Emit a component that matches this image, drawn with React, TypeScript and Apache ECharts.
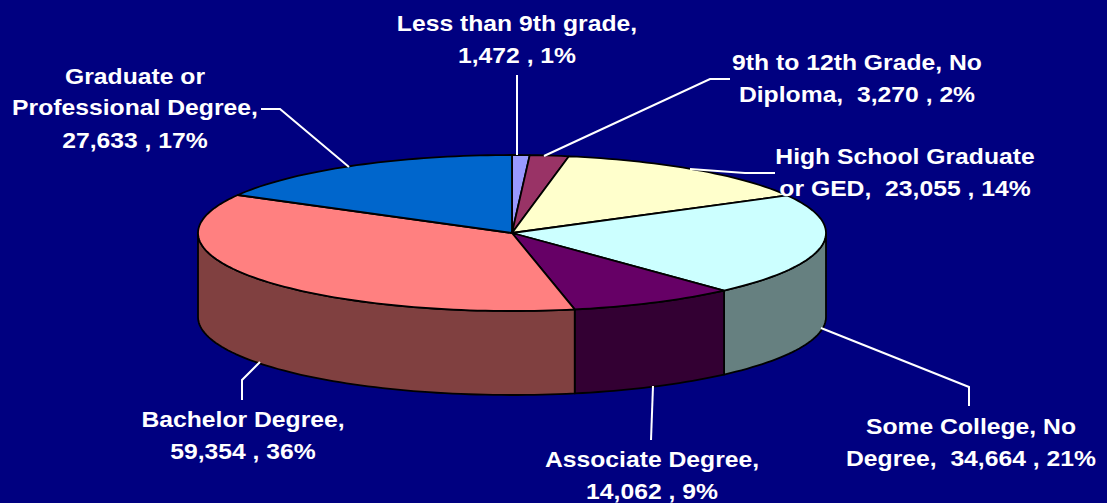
import React, { useEffect, useRef } from "react";
import * as echarts from "echarts";

const categories = [
  "Less than 9th grade",
  "9th to 12th Grade, No Diploma",
  "High School Graduate or GED",
  "Some College, No Degree",
  "Associate Degree",
  "Bachelor Degree",
  "Graduate or Professional Degree",
];
const values = [1472, 3270, 23055, 34664, 14062, 59354, 27633];
const topColors = ["#9999FF", "#993366", "#FFFFCC", "#CCFFFF", "#660066", "#FF8080", "#0066CC"];
const wallColors = ["#4C4C80", "#4C1933", "#808066", "#668080", "#330033", "#804040", "#003366"];
const labelLines = [
  ["Less than 9th grade,", "1,472 , 1%"],
  ["9th to 12th Grade, No", "Diploma,  3,270 , 2%"],
  ["High School Graduate", "or GED,  23,055 , 14%"],
  ["Some College, No", "Degree,  34,664 , 21%"],
  ["Associate Degree,", "14,062 , 9%"],
  ["Bachelor Degree,", "59,354 , 36%"],
  ["Graduate or", "Professional Degree,", "27,633 , 17%"],
];
// Label layout: centre x and the centre y of each line
const labelX = [517, 857, 905, 971, 652, 243, 135];
const labelY = [[23, 55], [62, 94], [156, 188], [426, 458], [459, 491], [419, 451], [76, 107, 140]];
const leaders = [
  [[517, 75], [517, 155]],
  [[544, 156], [710, 79], [730, 79]],
  [[690, 169], [745, 173], [775, 173]],
  [[821, 328], [969, 387], [969, 406]],
  [[653, 386], [651, 440]],
  [[260, 362], [242, 380], [242, 400]],
  [[349, 167], [280, 109], [261, 109]],
];

const CX = 512;
const CY = 233;
const RX = 314;
const RY = 78;
const DEPTH = 84;
const total = values.reduce((a, b) => a + b, 0);

const pt = (deg: number, dy = 0): number[] => {
  const r = (deg * Math.PI) / 180;
  return [CX + RX * Math.sin(r), CY - RY * Math.cos(r) + dy];
};
const arc = (a: number, b: number, dy = 0): number[][] => {
  const n = Math.max(2, Math.ceil(Math.abs(b - a) / 1.5));
  const out: number[][] = [];
  for (let i = 0; i <= n; i++) out.push(pt(a + ((b - a) * i) / n, dy));
  return out;
};

const startAngle = (i: number) => (values.slice(0, i).reduce((a, b) => a + b, 0) / total) * 360;

const renderItem = (params: any, api: any) => {
  const i = params.dataIndex;
  const a = startAngle(i);
  const b = a + (api.value(0) / total) * 360;
  const lineStyle = { stroke: "#000000", lineWidth: 1.8, lineJoin: "round" };
  const children: any[] = [];
  const wa = Math.max(a, 90);
  const wb = Math.min(b, 270);
  if (wb > wa) {
    children.push({
      type: "polygon",
      z2: 1,
      shape: { points: [...arc(wa, wb), ...arc(wb, wa, DEPTH)] },
      style: { fill: wallColors[i], ...lineStyle },
    });
  }
  children.push({
    type: "polygon",
    z2: 2,
    shape: { points: [[CX, CY], ...arc(a, b)] },
    style: { fill: topColors[i], ...lineStyle },
  });
  return { type: "group", children };
};

export default function App() {
  const ref = useRef<HTMLDivElement>(null);
  useEffect(() => {
    const chart = echarts.init(ref.current!, undefined, { renderer: "svg" });
    const graphic: any[] = [];
    leaders.forEach((points) => {
      graphic.push({
        type: "polyline",
        z: 10,
        shape: { points },
        style: { stroke: "#FFFFFF", lineWidth: 2, fill: "none" },
      });
    });
    labelLines.forEach((lines, i) => {
      lines.forEach((text, j) => {
        graphic.push({
          type: "text",
          z: 11,
          x: labelX[i],
          y: labelY[i][j],
          scaleX: 1.075,
          style: {
            text,
            fill: "#FFFFFF",
            font: 'bold 23px "Liberation Sans", Arial, sans-serif',
            align: "center",
            verticalAlign: "middle",
          },
        });
      });
    });
    chart.setOption({
      animation: false,
      backgroundColor: "#000080",
      series: [
        {
          type: "custom",
          coordinateSystem: "none",
          name: "Education",
          data: categories.map((name, i) => ({ name, value: [values[i]] })),
          renderItem,
          silent: true,
        },
      ],
      graphic,
    });
    return () => chart.dispose();
  }, []);
  return <div ref={ref} style={{ position: "absolute", left: 0, top: 0, width: 1107, height: 503 }} />;
}
